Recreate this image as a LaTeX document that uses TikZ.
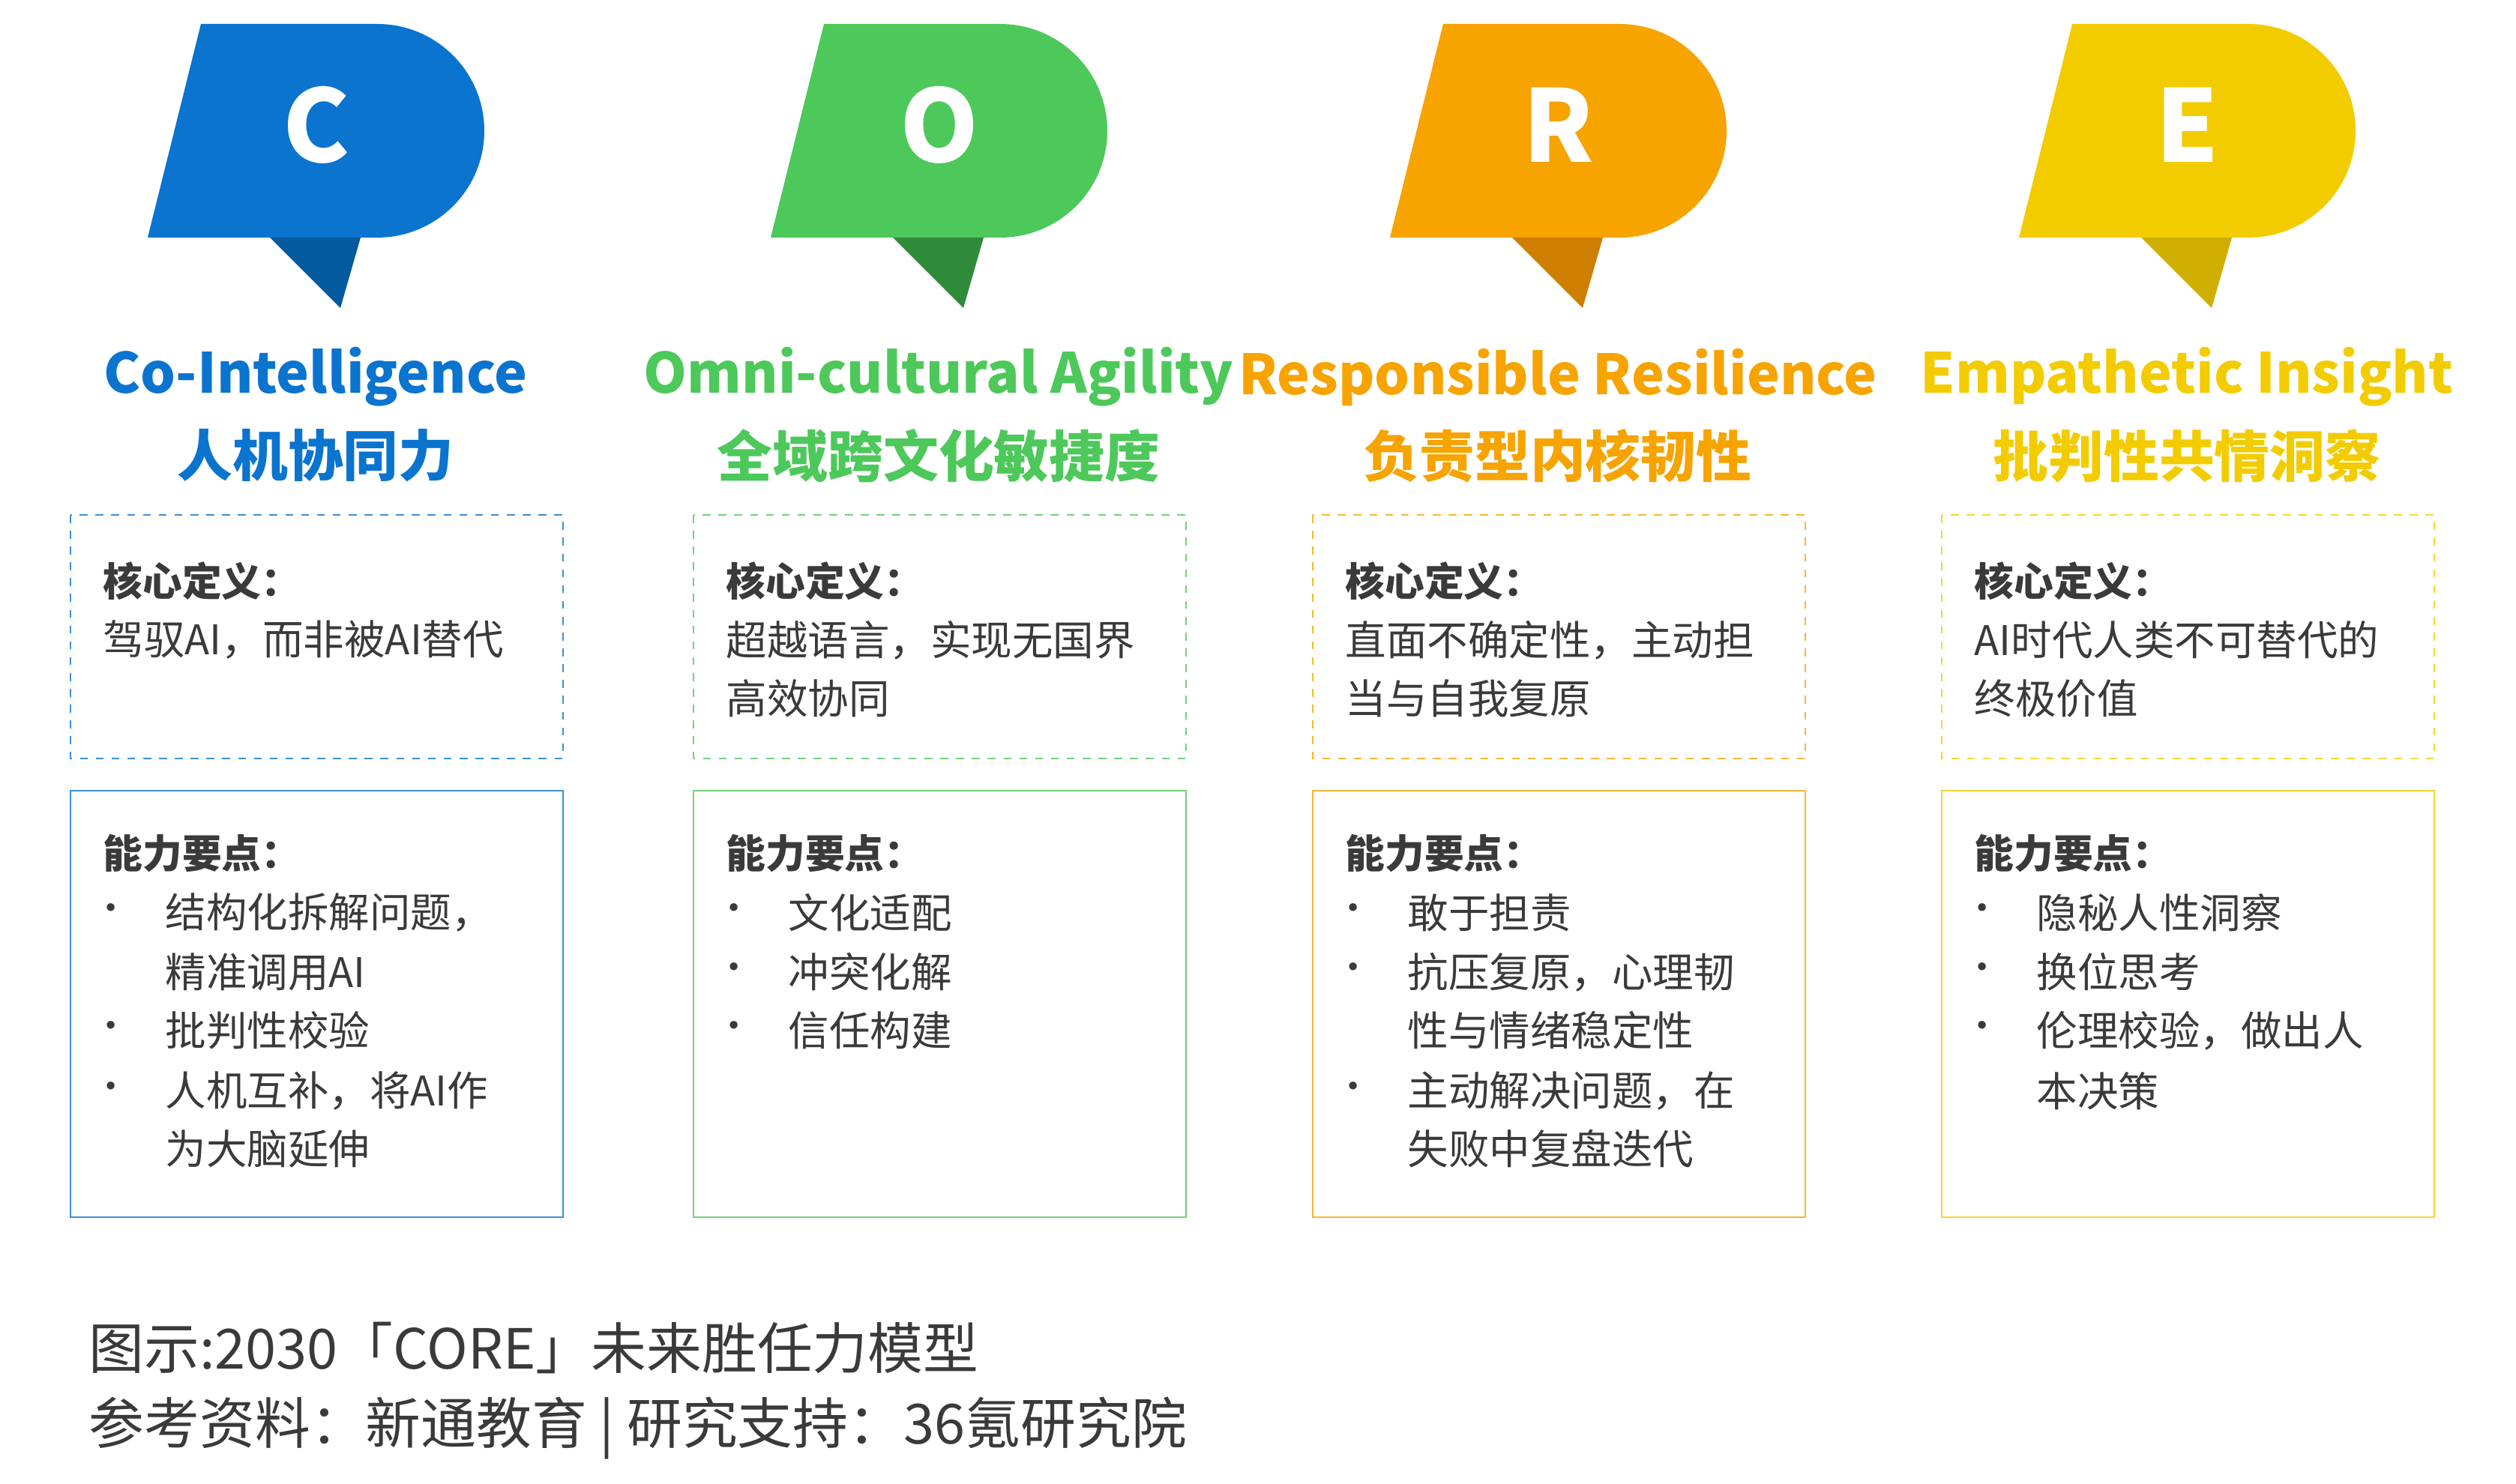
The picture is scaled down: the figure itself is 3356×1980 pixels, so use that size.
\documentclass[tikz,border=0pt]{standalone}
\usepackage{fontspec}
\setmainfont{Noto Sans CJK SC}
\usetikzlibrary{positioning}
\definecolor{cblue}{HTML}{0A74CF}
\definecolor{cblueD}{HTML}{045A9E}
\definecolor{cgreen}{HTML}{4DC85A}
\definecolor{cgreenD}{HTML}{2F8A3A}
\definecolor{corange}{HTML}{F7A300}
\definecolor{corangeD}{HTML}{CF7F00}
\definecolor{cyellow}{HTML}{F3CC00}
\definecolor{cyellowD}{HTML}{CFAE00}
\definecolor{txt}{HTML}{3A3A3A}
\tikzset{
  letter/.style={text=white,font=\fontsize{38}{40}\selectfont\bfseries},
  entitle/.style={font=\fontsize{21}{23}\selectfont\bfseries},
  cntitle/.style={font=\fontsize{21}{23}\selectfont\bfseries},
  head/.style={anchor=west,text=txt,inner sep=0pt,font=\fontsize{15}{17}\selectfont\bfseries},
  line/.style={anchor=west,text=txt,inner sep=0pt,font=\fontsize{15.5}{17}\selectfont},
  dot/.style={anchor=center,text=txt,inner sep=0pt,font=\fontsize{14}{15}\selectfont},
  foot/.style={anchor=west,text=txt,inner sep=0pt,font=\fontsize{21}{23}\selectfont}
}
\begin{document}
\begin{tikzpicture}[x=0.01cm,y=-0.01cm]
\useasboundingbox (0,0) rectangle (3356,1980);

% flags
\foreach \x/\c/\d/\l in {0/cblue/cblueD/C, 831/cgreen/cgreenD/O, 1657/corange/corangeD/R, 2496/cyellow/cyellowD/E}{
  \begin{scope}[xshift=\x*0.01cm]
  \fill[\c] (197,317) -- (268,32) -- (503,32) arc[start angle=90,end angle=-90,x radius=143,y radius=-142.5] -- cycle;
  \fill[\d] (360,317) -- (481,317) -- (454,411) -- cycle;
  \node[letter] (flag\l) at (422,167) {\l};
  \end{scope}
}

% titles
\node[entitle,text=cblue] (enC) at (421,503) {Co-Intelligence};
\node[cntitle,text=cblue] (cnC) at (421,608) {人机协同力};
\node[entitle,text=cgreen] (enO) at (1252,503) {Omni-cultural Agility};
\node[cntitle,text=cgreen] (cnO) at (1252,608) {全域跨文化敏捷度};
\node[entitle,text=corange] (enR) at (2078,503) {Responsible Resilience};
\node[cntitle,text=corange] (cnR) at (2078,608) {负责型内核韧性};
\node[entitle,text=cyellow] (enE) at (2917,503) {Empathetic Insight};
\node[cntitle,text=cyellow] (cnE) at (2917,608) {批判性共情洞察};

% boxes
\draw[cblue!80,dashed,thick] (94,687) rectangle (751,1012);
\draw[cblue!80,thick] (94,1055) rectangle (751,1624);
\draw[cgreen!80,dashed,thick] (925,687) rectangle (1582,1012);
\draw[cgreen!80,thick] (925,1055) rectangle (1582,1624);
\draw[corange!80,dashed,thick] (1751,687) rectangle (2408,1012);
\draw[corange!80,thick] (1751,1055) rectangle (2408,1624);
\draw[cyellow!80,dashed,thick] (2590,687) rectangle (3247,1012);
\draw[cyellow!80,thick] (2590,1055) rectangle (3247,1624);

% C
\node[head] (defC) at (137,775) {核心定义：};
\node[line] (defC1) at (137,854) {驾驭AI，而非被AI替代};
\node[head] (keyC) at (137,1139) {能力要点：};
\node[dot] at (148,1218) {•}; \node[line] (keyC1) at (220,1218) {结构化拆解问题，};
\node[line] (keyC2) at (220,1297) {精准调用AI};
\node[dot] at (148,1375) {•}; \node[line] (keyC3) at (220,1375) {批判性校验};
\node[dot] at (148,1456) {•}; \node[line] (keyC4) at (220,1456) {人机互补，将AI作};
\node[line] (keyC5) at (220,1533) {为大脑延伸};

% O
\node[head] (defO) at (968,775) {核心定义：};
\node[line] (defO1) at (968,854) {超越语言，实现无国界};
\node[line] (defO2) at (968,932) {高效协同};
\node[head] (keyO) at (968,1139) {能力要点：};
\node[dot] at (979,1218) {•}; \node[line] (keyO1) at (1051,1218) {文化适配};
\node[dot] at (979,1297) {•}; \node[line] (keyO2) at (1051,1297) {冲突化解};
\node[dot] at (979,1375) {•}; \node[line] (keyO3) at (1051,1375) {信任构建};

% R
\node[head] (defR) at (1794,775) {核心定义：};
\node[line] (defR1) at (1794,854) {直面不确定性，主动担};
\node[line] (defR2) at (1794,932) {当与自我复原};
\node[head] (keyR) at (1794,1139) {能力要点：};
\node[dot] at (1805,1218) {•}; \node[line] (keyR1) at (1877,1218) {敢于担责};
\node[dot] at (1805,1297) {•}; \node[line] (keyR2) at (1877,1297) {抗压复原，心理韧};
\node[line] (keyR3) at (1877,1375) {性与情绪稳定性};
\node[dot] at (1805,1456) {•}; \node[line] (keyR4) at (1877,1456) {主动解决问题，在};
\node[line] (keyR5) at (1877,1533) {失败中复盘迭代};

% E
\node[head] (defE) at (2633,775) {核心定义：};
\node[line] (defE1) at (2633,854) {AI时代人类不可替代的};
\node[line] (defE2) at (2633,932) {终极价值};
\node[head] (keyE) at (2633,1139) {能力要点：};
\node[dot] at (2644,1218) {•}; \node[line] (keyE1) at (2716,1218) {隐秘人性洞察};
\node[dot] at (2644,1297) {•}; \node[line] (keyE2) at (2716,1297) {换位思考};
\node[dot] at (2644,1375) {•}; \node[line] (keyE3) at (2716,1375) {伦理校验，做出人};
\node[line] (keyE4) at (2716,1456) {本决策};

% footer
\node[foot] (fig) at (118,1798) {图示:2030「CORE」未来胜任力模型};
\node[foot] (src) at (118,1905) {参考资料：新通教育 | 研究支持：36氪研究院};
\end{tikzpicture}
\end{document}
